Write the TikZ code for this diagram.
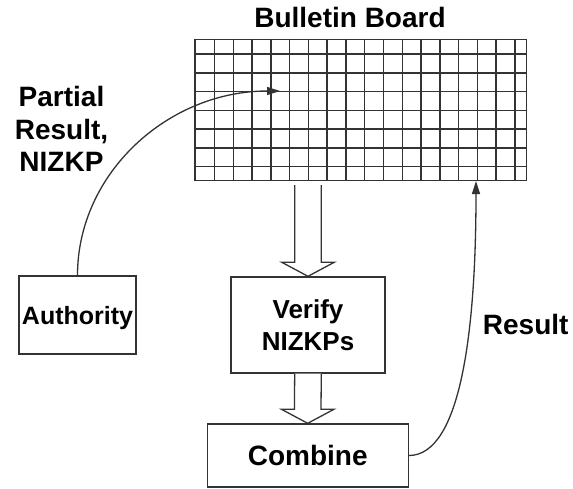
\documentclass[tikz,border=0pt]{standalone}
\usepackage{fontspec}
\setmainfont{Liberation Sans}
\usetikzlibrary{arrows.meta,calc}
\definecolor{ink}{HTML}{333333}
% hollow block arrow: #1 = top of the shaft, #2 = tip
\newcommand\hollowarrow[2]{%
  \draw[hollow] ($(#1)+(-13.3,0)$) -- ($(#2)+(-13.3,-14)$) -- ($(#2)+(-26.2,-14)$)
    -- (#2) -- ($(#2)+(26.2,-14)$) -- ($(#2)+(13.3,-14)$) -- ($(#1)+(13.3,0)$);}
\begin{document}
\begin{tikzpicture}[x=1pt,y=-1pt,
  every node/.style={inner sep=0pt},
  box/.style={draw=ink, line width=1.4pt, fill=white},
  gridline/.style={draw=ink, line width=1.5pt},
  flow/.style={draw=ink, line width=1.3pt, -{Triangle[length=13pt,width=8pt]}},
  hollow/.style={draw=ink, line width=1.3pt, fill=white, line join=miter},
  big/.style={font=\bfseries\fontsize{28pt}{32.8pt}\selectfont},
]
\useasboundingbox (0,0) rectangle (573,488);

% bulletin board grid
\node[draw=ink, line width=1.5pt, minimum width=332pt, minimum height=141pt,
      anchor=north west] (board) at (193.5,38.5) {};
\foreach \k in {0,...,17}
  \draw[gridline] ({195.7+18.78*\k},38.5) -- ++(0,141);
\foreach \k in {0,...,6}
  \draw[gridline] (193.5,{54+18.75*\k}) -- ++(332,0);
\node[big, anchor=base] (title) at (350,27.3) {Bulletin Board};

% boxes
\node[box, minimum width=117pt, minimum height=78pt, text depth=0pt,
      font=\bfseries\fontsize{25pt}{30pt}\selectfont] (auth) at (77.5,315) {Authority};
\node[box, minimum width=154pt, minimum height=96pt, align=center,
      font=\bfseries\fontsize{26pt}{31.7pt}\selectfont] (verify) at (308,325) {Verify\\NIZKPs};
\node[box, big, minimum width=201pt, minimum height=63pt, text depth=0pt]
      (comb) at (307.7,455.5) {Combine};

% labels
\node[big, align=center] (partial) at (61.5,128.9) {Partial\\Result,\\NIZKP};
\node[big, anchor=base west] (res) at (482.7,334.3) {Result};

% connectors
\coordinate (inpt) at (280,91);
\coordinate (outpt) at (476,181);
\draw[flow] (auth.north) .. controls +(0,-102) and +(-112,0) .. (inpt);
\draw[flow] (comb.east) .. controls +(52,0) and +(0,149) .. (outpt);

\coordinate (s1) at ($(board.south -| verify.north)+(0,4)$);
\hollowarrow{s1}{verify.north}
\hollowarrow{verify.south}{comb.north}
\end{tikzpicture}
\end{document}
